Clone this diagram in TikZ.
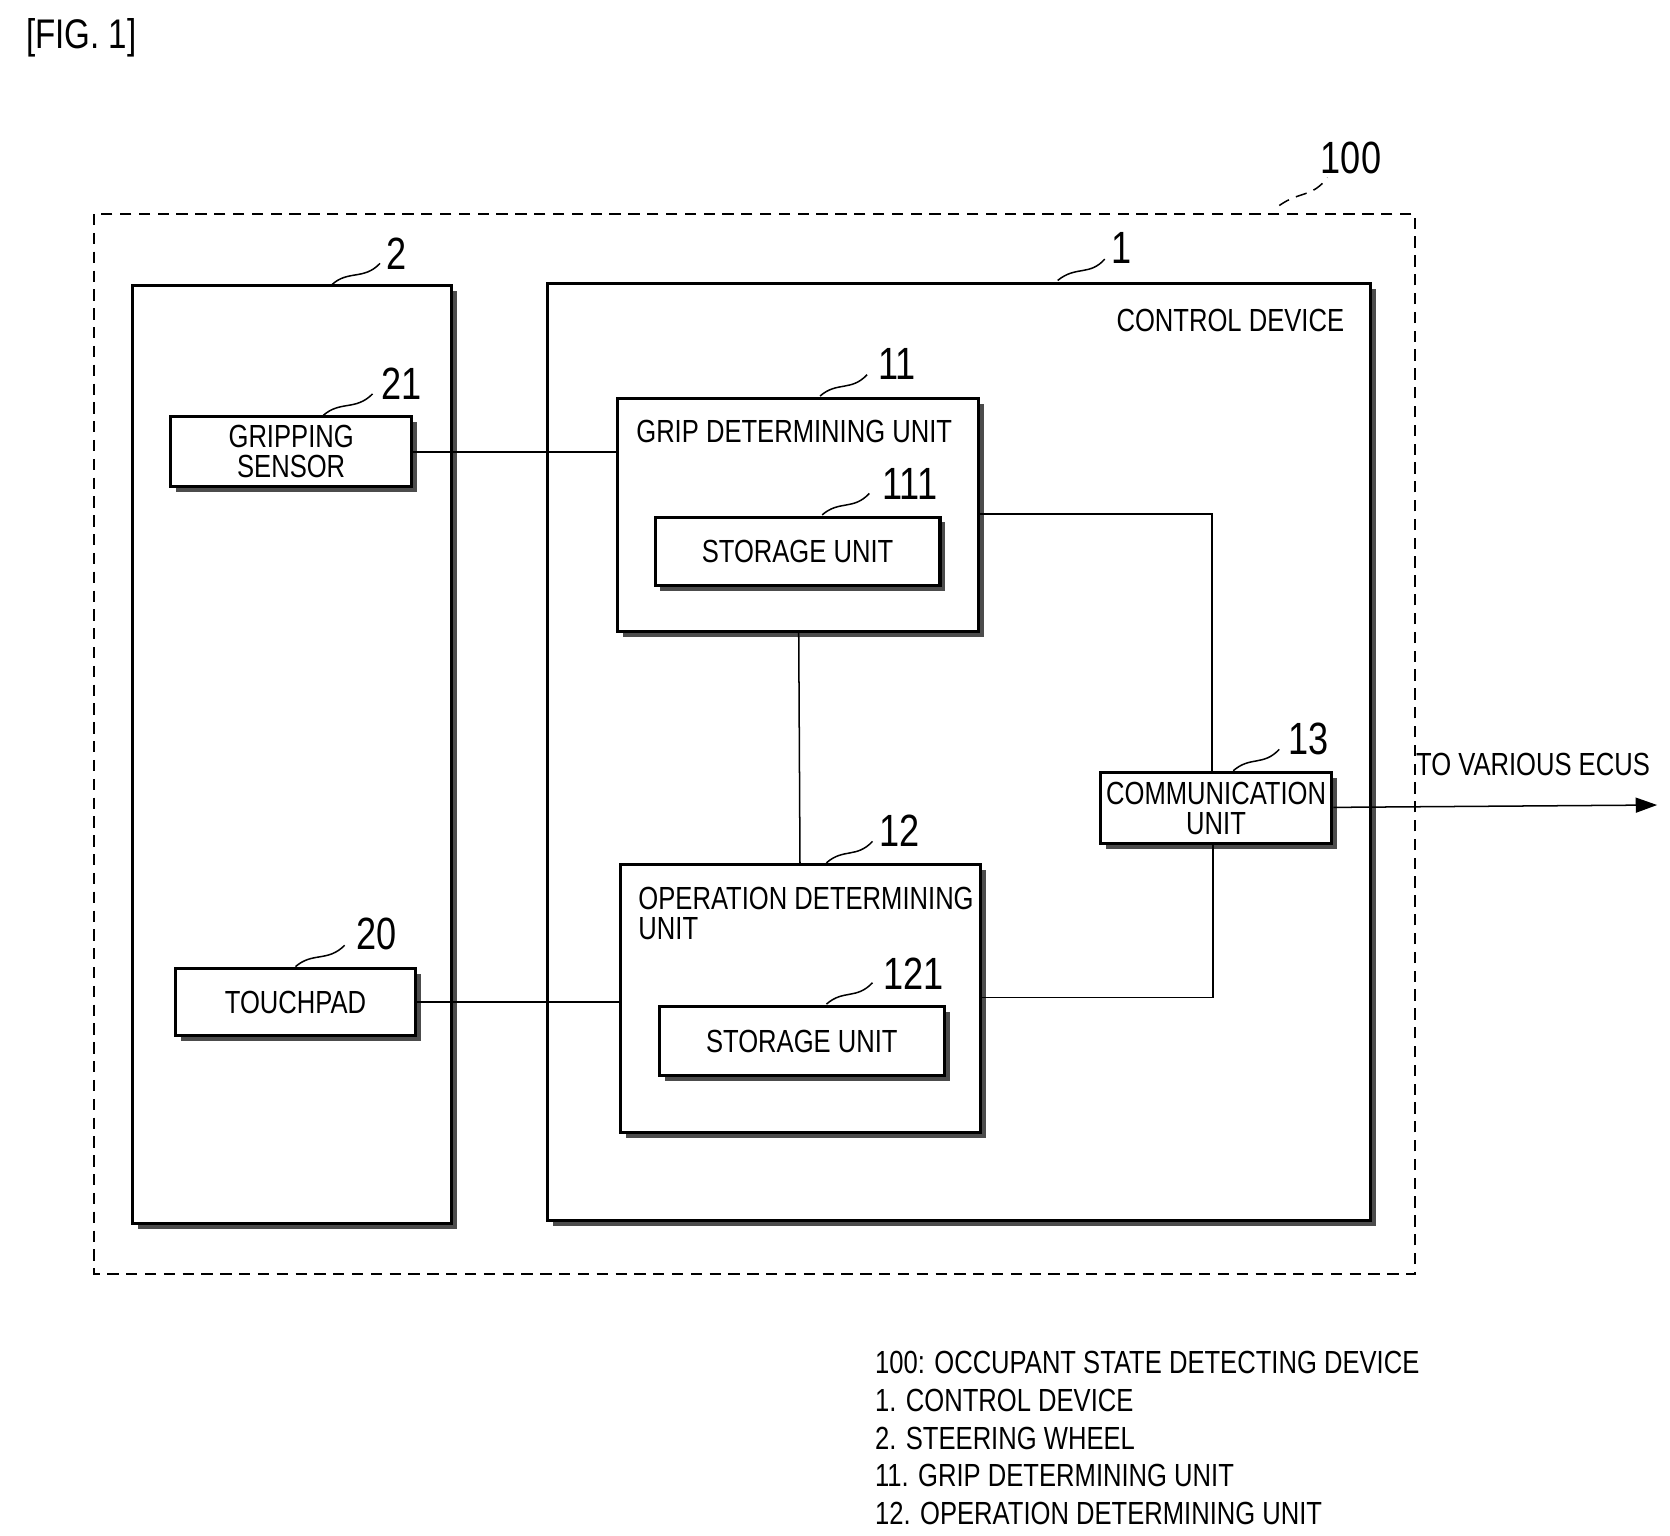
\documentclass[tikz,border=0pt]{standalone}
\usepackage{fontspec}
\setmainfont[FakeStretch=0.8]{Liberation Sans}
\usetikzlibrary{shadows, arrows.meta}
\tikzset{
    x=0.01cm, y=-0.01cm,
    font=\fontsize{8.5pt}{10pt}\selectfont,
    box/.style={
            draw,
            thick,
            fill=white,
            inner sep=0pt,
            align=center,
            drop shadow={shadow xshift=0.05cm, shadow yshift=-0.05cm, fill=black!70, opacity=1},
        },
    num/.style={font=\fontsize{12pt}{12pt}\selectfont, inner sep=1pt},
    lead/.style={thin, densely dashed},
    wire/.style={thin},
}
\begin{document}
\begin{tikzpicture}
                \useasboundingbox (0,0) rectangle (1560,1434);
                \node[anchor=west, font=\fontsize{11pt}{13pt}\selectfont] (fig) at (12,35) {[FIG. 1]};

                % frames
                \draw[densely dashed] (88,200) rectangle (1322,1190);
                \node[box, minimum width=2.98cm, minimum height=8.76cm] (s2) at (273,705) {};
                \node[box, minimum width=7.68cm, minimum height=8.75cm] (s1) at (896,702.5) {};
                \node[anchor=north east] (cd) at (1268,276) {CONTROL DEVICE};

                % nodes
                \node[box, minimum width=2.25cm, minimum height=0.65cm] (grip) at (272,422) {GRIPPING\\[-2pt]SENSOR};
                \node[box, minimum width=2.24cm, minimum height=0.63cm] (touch) at (276,936) {TOUCHPAD};
                \node[box, minimum width=3.37cm, minimum height=2.18cm] (gdu) at (745.5,481) {};
                \node[anchor=north west] (gdut) at (582,380) {GRIP DETERMINING UNIT};
                \node[box, minimum width=2.66cm, minimum height=0.64cm] (st1) at (745,515) {STORAGE UNIT};
                \node[box, minimum width=3.36cm, minimum height=2.5cm] (odu) at (748,933) {};
                \node[anchor=north west, align=left] (odut) at (584,816) {OPERATION DETERMINING\\[-2pt]UNIT};
                \node[box, minimum width=2.66cm, minimum height=0.65cm] (st2) at (749,972.5) {STORAGE UNIT};
                \node[box, minimum width=2.16cm, minimum height=0.66cm] (com) at (1136,755) {COMMUNICATION\\[-2pt]UNIT};
                \coordinate (out) at (1548,752);
                \node[anchor=south] (ecu) at (1432,737) {TO VARIOUS ECUS};

                % reference numbers
                \node[num] (n100) at (1262,148) {100};
                \node[num] (n2) at (370,237) {2};
                \node[num] (n1) at (1048,232) {1};
                \node[num] (n21) at (375,358) {21};
                \node[num] (n20) at (352,872) {20};
                \node[num] (n11) at (838,340) {11};
                \node[num] (n111) at (850,452) {111};
                \node[num] (n12) at (840,776) {12};
                \node[num] (n121) at (853,910) {121};
                \node[num] (n13) at (1222,690) {13};

                \draw[lead] (1195,192) .. controls (1215,178) and (1225,185) .. (1240,166);
                \draw (310,266) .. controls (325,252) and (340,262) .. (355,246);
                \draw (988,262) .. controls (1005,248) and (1018,258) .. (1032,242);
                \draw (302,388) .. controls (318,374) and (332,384) .. (348,368);
                \draw (276,903) .. controls (292,889) and (306,899) .. (322,883);
                \draw (766,370) .. controls (782,356) and (795,366) .. (810,350);
                \draw (768,481) .. controls (784,467) and (797,477) .. (812,461);
                \draw (772,806) .. controls (788,792) and (800,802) .. (815,786);
                \draw (772,938) .. controls (788,924) and (800,934) .. (815,918);
                \draw (1152,720) .. controls (1168,706) and (1180,716) .. (1195,700);

                % edges
                \draw[wire] (grip) -- (gdu.west |- grip);
                \draw[wire] (touch) -- (odu.west |- touch);
                \draw[wire] (gdu) -- (odu);
                \draw[wire] (gdu.east |- 0,480) -| (com.north -| 1132,0);
                \draw[wire] (odu.east |- 0,932) -| (com.south -| 1133,0);
                \draw[wire, -{Triangle[length=0.2cm, width=0.14cm]}] (com) -- (out);

                % legend
                \node[anchor=north west, align=left] (leg) at (805,1250) {100: OCCUPANT STATE DETECTING DEVICE\\[0pt]1. CONTROL DEVICE\\[0pt]2. STEERING WHEEL\\[0pt]11. GRIP DETERMINING UNIT\\[0pt]12. OPERATION DETERMINING UNIT};
\end{tikzpicture}
\end{document}
